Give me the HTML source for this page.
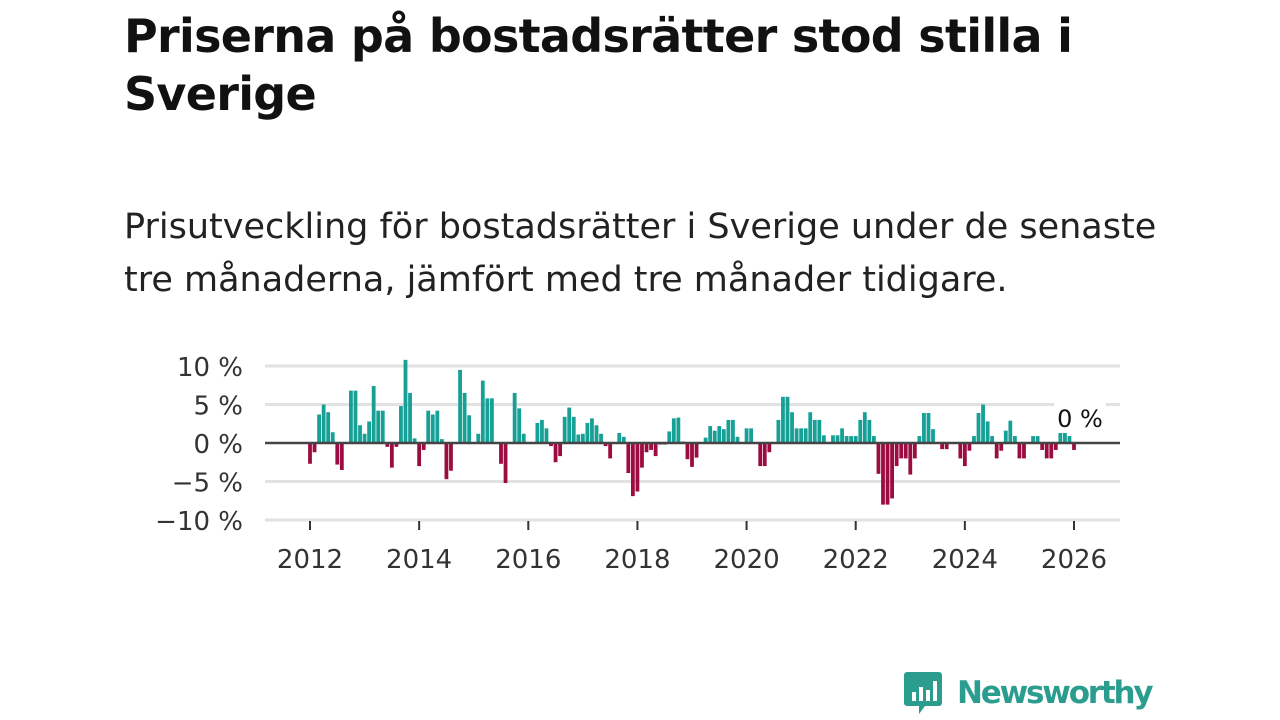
<!DOCTYPE html>
<html><head><meta charset="utf-8"><style>
body{margin:0;width:1280px;height:720px;background:#fff;font-family:"Liberation Sans","DejaVu Sans",sans-serif;overflow:hidden;position:relative}
h1{position:absolute;left:124px;top:7px;margin:0;font-size:46px;line-height:58px;font-weight:bold;color:#111;width:1040px;font-family:"DejaVu Sans","Liberation Sans",sans-serif;letter-spacing:-0.7px}
p{position:absolute;left:124px;top:201px;margin:0;font-size:35px;line-height:53px;color:#222;width:1060px;font-family:"DejaVu Sans","Liberation Sans",sans-serif;letter-spacing:0px}
#logo{position:absolute;left:903px;top:670px;height:46px;display:flex;align-items:center}
#logo span{font-size:31px;color:#2a9d8f;font-weight:bold;margin-left:14px;font-family:"DejaVu Sans",sans-serif;letter-spacing:-2.2px}
</style></head><body>
<h1>Priserna på bostadsrätter stod stilla i Sverige</h1>
<p>Prisutveckling för bostadsrätter i Sverige under de senaste tre månaderna, jämfört med tre månader tidigare.</p>
<svg id="chart" width="1280" height="720" style="position:absolute;left:0;top:0"></svg>
<div id="logo">
<svg width="40" height="46"><path d="M4 2h32a3 3 0 0 1 3 3v28a3 3 0 0 1-3 3H22l-6 8v-8H4a3 3 0 0 1-3-3V5a3 3 0 0 1 3-3z" fill="#2a9d8f"/><rect x="9" y="22" width="4" height="9" fill="#fff"/><rect x="16" y="17" width="4" height="14" fill="#fff"/><rect x="23" y="20" width="4" height="11" fill="#fff"/><rect x="30" y="11" width="4" height="20" fill="#fff"/></svg>
<span>Newsworthy</span></div>
<script>
const values=[-2.7,-1.2,3.7,5,4,1.4,-2.8,-3.5,0,6.8,6.8,2.3,1.2,2.8,7.4,4.2,4.2,-0.5,-3.2,-0.5,4.8,10.8,6.5,0.6,-3,-0.9,4.2,3.7,4.2,0.5,-4.7,-3.6,0,9.5,6.5,3.6,0,1.2,8.1,5.8,5.8,0,-2.7,-5.2,
0,6.5,4.5,1.2,0,0,2.6,3.0,1.9,-0.4,-2.5,-1.7,3.4,4.6,3.4,1.1,1.2,2.6,3.2,2.3,1.2,-0.4,-2,0,1.3,0.8,-3.9,-6.9,-6.3,-3.2,-1.2,-0.9,-1.7,-0.2,-0.2,1.5,3.2,3.3,0.2,-2.1,-3.1,-1.9,0,
0.7,2.2,1.6,2.2,1.8,3.0,3.0,0.8,0,1.9,1.9,0,-3,-3,-1.2,0,3.0,6.0,6.0,4.0,1.9,1.9,1.9,4.0,3.0,3.0,1.0,0,1.0,1.0,1.9,0.9,0.9,0.9,3.0,4.0,3.0,0.9,-4.0,-8.0,-8.0,-7.2,-3,-2,-2,-4.1,-2,
0.9,3.9,3.9,1.8,0,-0.8,-0.8,0,0,-2,-3,-1,0.9,3.9,5.0,2.8,0.9,-2,-1,1.6,2.9,0.9,-2,-2,0,0.9,0.9,-0.9,-2,-2,-0.9,1.3,1.3,0.9,-0.9];
const yTicks=[10,5,0,-5,-10];
const yTickLabels=["10 %","5 %","0 %","−5 %","−10 %"];
const xYears=[2012,2014,2016,2018,2020,2022,2024,2026];
const startYear=2012;
const lastLabel="0 %";
const NS="http://www.w3.org/2000/svg";
const svg=document.getElementById('chart');
const X0=265,X1=1120;
const y=v=>443-v*7.7;
const x=m=>310+m*(1074-310)/168;
function el(t,a){const e=document.createElementNS(NS,t);for(const k in a)e.setAttribute(k,a[k]);svg.appendChild(e);return e;}
yTicks.forEach((t,i)=>{
 if(t!==0){const g=el('line',{x1:X0,x2:X1,y1:y(t),y2:y(t),stroke:'#e2e2e2','stroke-width':3});
 
 }
 const tx=el('text',{x:243,y:y(t)+10,'text-anchor':'end','font-size':26,fill:'#333','font-family':'DejaVu Sans, sans-serif'});
 tx.textContent=yTickLabels[i];
 
 
});
values.forEach((v,i)=>{
 if(v===0)return;
 const r=el('rect',{x:x(i)-1.9,width:3.8,y:v>0?y(v):y(0),height:Math.abs(v)*7.7,fill:v>0?'#16a096':'#9c0c40'});
 
 
});
const z=el('line',{x1:X0,x2:X1,y1:y(0),y2:y(0),stroke:'#444','stroke-width':2.5});


xYears.forEach(yr=>{
 const xx=x((yr-startYear)*12);
 const t=el('line',{x1:xx,x2:xx,y1:521,y2:530,stroke:'#333','stroke-width':2});
 
 
 const l=el('text',{x:xx,y:568,'text-anchor':'middle','font-size':26,fill:'#333','font-family':'DejaVu Sans, sans-serif'});
 l.textContent=yr;
 
 
});
const bg=el('rect',{x:1054,y:403,width:52,height:30,fill:'#fff'});


const lab=el('text',{x:1080,y:427,'text-anchor':'middle','font-size':24,fill:'#111','font-family':'DejaVu Sans, sans-serif'});
lab.textContent=lastLabel;


</script>
</body></html>
